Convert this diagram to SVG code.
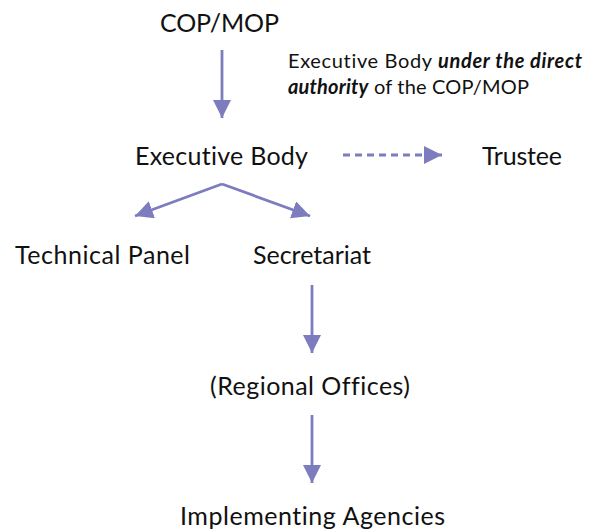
<svg xmlns="http://www.w3.org/2000/svg" width="596" height="531" viewBox="0 0 596 531">
<defs>
<style>
.lbl{font-family:Lato,"Open Sans","DejaVu Sans",sans-serif;font-size:25px;fill:#111;font-variant-ligatures:none}
.note{font-family:Lato,"Open Sans","DejaVu Sans",sans-serif;font-size:20px;fill:#111;font-variant-ligatures:none}
.bi{font-weight:bold;font-style:italic}
.con{stroke:#7c7cbf;stroke-width:2.8;fill:none}
.dash{stroke-dasharray:7 5}
</style>
<marker id="ah" markerUnits="userSpaceOnUse" markerWidth="20" markerHeight="20" refX="18" refY="9" orient="auto">
<path d="M0,0 L18,9 L0,18 Z" fill="#7c7cbf"/>
</marker>
</defs>
<rect width="596" height="531" fill="#fff"/>
<g id="connectors">
<line class="con" x1="222" y1="50" x2="222" y2="118" marker-end="url(#ah)"/>
<line class="con dash" x1="343" y1="155" x2="442" y2="155" marker-end="url(#ah)"/>
<line class="con" x1="222" y1="184" x2="135" y2="216" marker-end="url(#ah)"/>
<line class="con" x1="222" y1="184" x2="310" y2="216" marker-end="url(#ah)"/>
<line class="con" x1="312" y1="285" x2="312" y2="353" marker-end="url(#ah)"/>
<line class="con" x1="312" y1="415" x2="312" y2="483" marker-end="url(#ah)"/>
</g>
<g id="cop"><text class="lbl" x="160" y="32" textLength="119">COP/MOP</text></g>
<g id="note"><text class="note" x="288" y="68" textLength="294">Executive Body <tspan class="bi">under the direct</tspan></text>
<text class="note" x="288" y="94" textLength="241"><tspan class="bi">authority</tspan> of the COP/MOP</text></g>
<g id="exec"><text class="lbl" x="135" y="165" textLength="173">Executive Body</text></g>
<g id="trustee"><text class="lbl" x="482" y="165" textLength="80">Trustee</text></g>
<g id="tech"><text class="lbl" x="15" y="264" textLength="175">Technical Panel</text></g>
<g id="sec"><text class="lbl" x="253" y="264" textLength="118">Secretariat</text></g>
<g id="reg"><text class="lbl" x="210" y="395" textLength="200">(Regional Offices)</text></g>
<g id="impl"><text class="lbl" x="180" y="525" textLength="265">Implementing Agencies</text></g>
</svg>
